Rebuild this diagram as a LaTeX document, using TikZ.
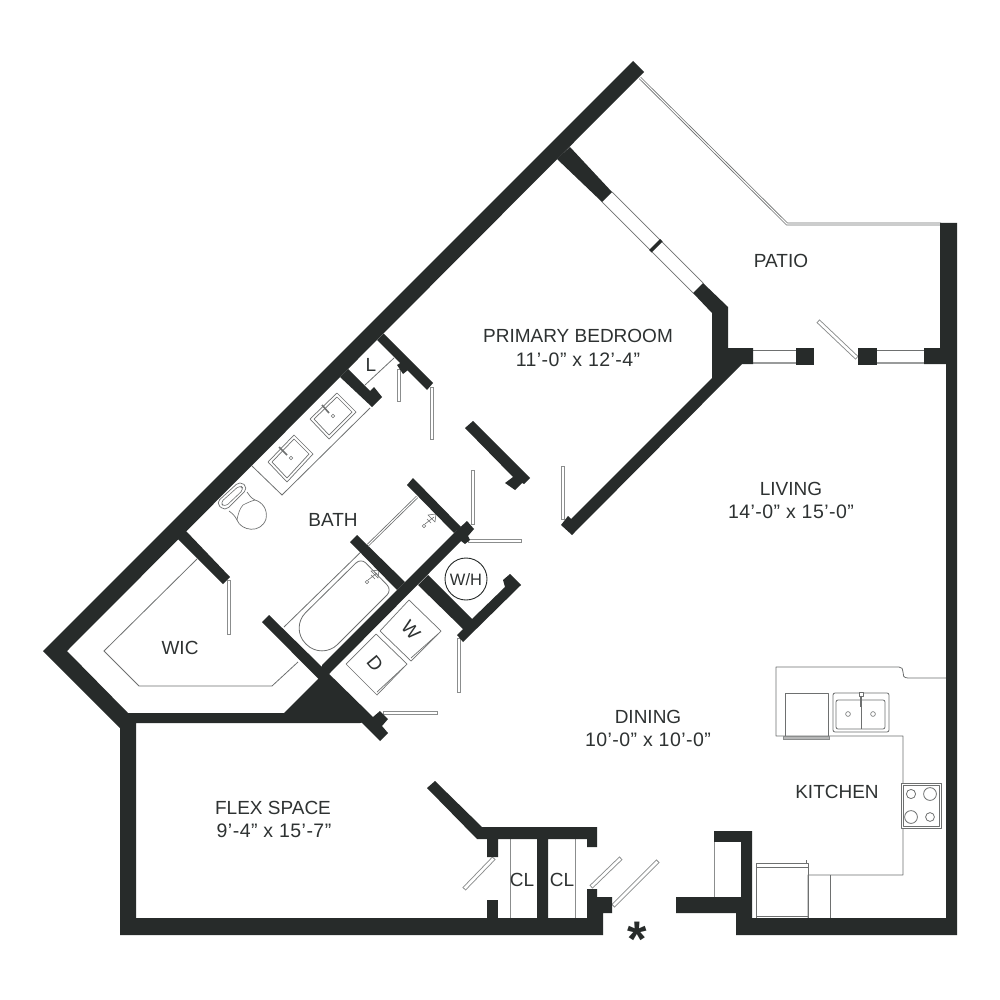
\documentclass[tikz,border=0pt]{standalone}
\usepackage{fontspec}
\setmainfont{Liberation Sans}
\definecolor{wall}{HTML}{272B2A}
\definecolor{ln}{HTML}{6E7070}
\definecolor{txt}{HTML}{2E3232}
\newcommand\doorleaf[2]{%
  \draw[draw=ln!80,line width=4.4pt] (#1) -- (#2);
  \draw[draw=white,line width=2.6pt,shorten >=0.9pt,shorten <=0.9pt] (#1) -- (#2);}
\tikzset{
  wallfill/.style={fill=wall,draw=none},
  thin line/.style={draw=ln,line width=0.8pt},
  fix/.style={draw=ln,line width=0.8pt,line join=round},
  rail/.style={draw=ln,line width=0.8pt,double=white,double distance=1.1pt},
  lab/.style={anchor=base,inner sep=0pt,text=txt,font=\fontsize{19}{20}\selectfont},
  dim/.style={lab,font=\fontsize{19.5}{20}\selectfont\addfontfeatures{LetterSpace=2.4}},
}
\begin{document}
\begin{tikzpicture}[x=1pt,y=-1pt]
\useasboundingbox (0,0) rectangle (1000,1000);
\fill[white] (0,0) rectangle (1000,1000);

% ---- thin lines below walls
% patio rail
\draw[rail] (640,78) -- (787,224) -- (941,224);
% bedroom window
\draw[thin line,line width=0.7pt] (602,202) -- (693,293);
\draw[thin line,line width=0.7pt] (612,192) -- (703,283);
% patio windows
\draw[thin line] (753,350) -- (796,350);
\draw[draw=ln!70,line width=1.8pt] (753,363) -- (796,363);
\draw[thin line] (877,350) -- (924,350);
\draw[draw=ln!70,line width=1.8pt] (877,363) -- (924,363);
\draw[draw=ln!70,line width=1pt] (946,364) -- (946,430);
% closet rods
\draw[draw=ln!80,line width=1pt] (510,839) -- (510,918);
\draw[draw=ln!80,line width=1pt] (575,839) -- (575,918);
% walk-in shelf
\draw[thin line] (197,559) -- (104,651) -- (139,686) -- (272,686) -- (298,662);
% vanity counter
\draw[thin line] (252,466) -- (282,495) -- (370,408);
% linen shelf
\draw[thin line] (365,385) -- (394,358);
% shower glass
\draw[rail] (417,497) -- (368,545);
% tub surround
\draw[thin line] (368,545) -- (284,627);
% tub
\draw[fix,rounded corners=7pt] (361,558) -- (392,590) [rounded corners=22pt] -- (322,660) -- (290,628) [rounded corners=7pt] -- cycle;
% tub fixture
\draw[fix,line width=0.6pt] (367,582) circle [radius=1.8pt];
\draw[fix,line width=0.6pt] (368,580) -- (377,573) (371,571) -- (379,570) -- (378,578) -- cycle (371,575) -- (375,579);
% shower fixture
\draw[fix,line width=0.6pt] (424,526) circle [radius=1.8pt];
\draw[fix,line width=0.6pt] (425,524) -- (434,517) (428,515) -- (436,514) -- (435,522) -- cycle (427,519) -- (431,523);
% sinks
\draw[fix,line width=0.7pt] (337,393) -- (356,412) -- (329,439) -- (310,419) -- cycle;
\draw[fix,line width=0.7pt] (337,397) -- (352,412) -- (329,435) -- (314,419) -- cycle;
\draw[fix,line width=0.6pt] (333,416) circle [radius=1.8pt];
\draw[draw=ln,line width=1.6pt] (322,405) -- (329,413);
\draw[fix,line width=0.7pt] (294,435) -- (313,454) -- (287,482) -- (268,462) -- cycle;
\draw[fix,line width=0.7pt] (294,439) -- (309,454) -- (287,478) -- (272,462) -- cycle;
\draw[fix,line width=0.6pt] (291,458) circle [radius=1.8pt];
\draw[draw=ln,line width=1.6pt] (279,447) -- (287,455);
% toilet
\draw[fix,line width=0.7pt] (229,511) .. controls (233,514) and (235,516) .. (237,520) .. controls (241,531) and (261,534) .. (266,519) .. controls (268,509) and (262,502) .. (255,500) .. controls (251,498) and (249,495) .. (247,492);
\draw[fix,line width=0.6pt] (237,520) .. controls (238,514) and (240,508) .. (243,505) .. controls (247,503) and (251,501) .. (255,500);
\draw[fix,line width=0.7pt,rounded corners=5pt] (216,503) -- (240,481) -- (248,488) -- (225,511) -- cycle;
\draw[fix,line width=0.6pt,rounded corners=4pt] (220,503) -- (240,485) -- (244,489) -- (225,507) -- cycle;
% washer and dryer
\draw[fix,line width=0.7pt] (409,600) -- (441,631) -- (411,661) -- (380,631) -- cycle;
\draw[fix,line width=0.7pt] (438,634) -- (411,658);
\draw[fix,line width=0.7pt] (376,634) -- (407,664) -- (377,695) -- (346,664) -- cycle;
\draw[fix,line width=0.7pt] (404,667) -- (377,692);
% kitchen counters
\draw[fix] (946,678) -- (908,678) .. controls (903,678) and (903,675) .. (903,672) .. controls (903,669) and (902,667) .. (899,667) -- (776,667) -- (776,736) -- (903,736) -- (903,875) -- (808,875) -- (808,918);
\draw[fix] (830,875) -- (830,918);
% dishwasher
\draw[fix] (785,693) rectangle (828,736);
\draw[draw=ln!80,fill=ln!50,line width=0.7pt] (783,736) rectangle (829,739);
% kitchen sink
\draw[fix,rounded corners=2pt] (833,693) rectangle (889,732);
\draw[fix,rounded corners=2pt] (836,700) rectangle (885,729);
\draw[fix] (861,700) -- (861,729);
\draw[fix,line width=0.6pt] (848,714) circle [radius=2.4pt];
\draw[fix,line width=0.6pt] (873,714) circle [radius=2.4pt];
\draw[fix,fill=white,line width=0.6pt] (859,692) rectangle (863,696);
\draw[draw=ln,line width=1.4pt] (861,696) -- (861,707);
% range
\draw[fix,fill=white] (901,783) rectangle (941,828);
\draw[fix] (903.5,785.5) rectangle (939,826.5);
\draw[fix] (911,794) circle [radius=4.6pt];
\draw[fix] (930,794) circle [radius=6.4pt];
\draw[fix] (911,817) circle [radius=6.4pt];
\draw[fix] (930,817) circle [radius=4.4pt];
% refrigerator
\draw[fix] (756,863) rectangle (808,918);
\draw[fix] (756,867) -- (808,867);
\draw[fix] (756,916) -- (808,916);
\draw[fix] (806,863) -- (806,860);
% water heater
\draw[draw=wall,line width=0.9pt] (466,579) circle [radius=21pt];

% ---- door leaves
\doorleaf{399,369}{399,402}
\doorleaf{432,387}{432,440}
\doorleaf{473,470}{473,525}
\doorleaf{468,541}{522,541}
\doorleaf{229,580}{229,635}
\doorleaf{459,638}{459,693}
\doorleaf{383,713}{438,713}
\doorleaf{563,466}{563,520}
\doorleaf{464,889}{494,858}
\doorleaf{591,887}{621,858}
\doorleaf{613,906}{658,861}
\doorleaf{818,321}{857,358}

% ---- walls
\fill[wallfill] (633,61) -- (644,72) -- (67,651) -- (128,713) -- (284,713) -- (322,675) -- (368,721) -- (360,723) -- (136,723) -- (136,918) -- (587,918) -- (587,889) -- (597,889) -- (597,897) -- (612,897) -- (612,913) -- (603,913) -- (603,935) -- (120,935) -- (120,728) -- (43,651) -- cycle;
% wall along tub head through stub by the laundry
\fill[wallfill] (262,622) -- (269,615) -- (373,717) -- (380,711) -- (388,719) -- (382,726) -- (388,733) -- (380,741) -- cycle;
% wall from triangle to the block at the water heater
\fill[wallfill] (322,665) -- (453,534) -- (467,521) -- (474,529) -- (468,536) -- (470,540) -- (465,544) -- (461,541) -- (329,674) -- (322,682) -- cycle;
% shower end wall
\fill[wallfill] (350,542) -- (357,535) -- (405,582) -- (397,590) -- cycle;
% shower top wall
\fill[wallfill] (407,485) -- (413,478) -- (461,527) -- (454,533) -- cycle;
% water heater walls
\fill[wallfill] (428,575) -- (472,619) -- (505,587) -- (503,580) -- (510,574) -- (521,585) -- (463,642) -- (457,635) -- (463,629) -- (418,585) -- cycle;
% primary bedroom door top wall
\fill[wallfill] (377,340) -- (383.5,333.5) -- (433,383) -- (427,390) -- cycle;
\fill[wallfill] (397,365) -- (402,362) -- (408,370) -- (403,374) -- cycle;
% linen closet bottom wall
\fill[wallfill] (348,369) -- (370,391) -- (374,387) -- (382,397) -- (372,407) -- (340,377) -- cycle;
% free wall at bedroom door
\fill[wallfill] (465,428) -- (473,421) -- (530,478) -- (524,484) -- (522,483) -- (515,490) -- (505,483) -- (513,477) -- cycle;
% walk-in closet top wall
\fill[wallfill] (178,539) -- (186,531) -- (230,577) -- (223,584) -- cycle;
% bedroom southeast wall
\fill[wallfill] (703,283) -- (728,307) -- (728,348) -- (753,348) -- (753,364) -- (742,364) -- (572,535) -- (561,525) -- (568,516) -- (571,519) -- (712,378) -- (712,313) -- (693,293) -- cycle;
% bedroom northeast wall
\fill[wallfill] (557,159) -- (570,147) -- (612,192) -- (602,202) -- cycle;
% mullion
\fill[wallfill] (649,250) -- (660,239) -- (662.5,241.5) -- (651.5,252.5) -- cycle;
% patio door jambs
\fill[wallfill] (796,348) rectangle (814,365);
\fill[wallfill] (858,348) rectangle (877,365);
% east wall with entry
\fill[wallfill] (940,223) -- (957,223) -- (957,935) -- (736,935) -- (736,913) -- (676,913) -- (676,897) -- (714,897) -- (714,831) -- (752,831) -- (752,918) -- (946,918) -- (946,364) -- (924,364) -- (924,348) -- (940,348) -- cycle;
\fill[white] (715,842) rectangle (741,897);
\draw[draw=ln!80,line width=0.9pt] (714.5,842) -- (714.5,897);
% closet walls
\fill[wallfill] (427,788) -- (435,781) -- (482,827) -- (597,827) -- (597,847) -- (587,847) -- (587,839) -- (548,839) -- (548,920) -- (537,920) -- (537,839) -- (498,839) -- (498,857) -- (487,857) -- (487,839) -- (477,839) -- cycle;
\fill[wallfill] (487,900) rectangle (498,920);

% ---- labels
\node[lab] (patio) at (781,267) {PATIO};
\node[lab] (bed) at (578,342) {PRIMARY BEDROOM};
\node[dim] (beddim) at (578,366) {11’-0” x 12’-4”};
\node[lab] (linen) at (371,371) {L};
\node[lab] (bath) at (333,526) {BATH};
\node[lab] (wic) at (180,654) {WIC};
\node[lab,font=\fontsize{16.5}{18}\selectfont] (wh) at (466,585) {W/H};
\node[lab] (living) at (791,495) {LIVING};
\node[dim] (livdim) at (791,518) {14’-0” x 15’-0”};
\node[lab] (dining) at (648,723) {DINING};
\node[dim] (dindim) at (648,746) {10’-0” x 10’-0”};
\node[lab] (kitchen) at (837,798) {KITCHEN};
\node[lab] (flex) at (273,814) {FLEX SPACE};
\node[dim] (flexdim) at (274,837) {9’-4” x 15’-7”};
\node[lab] (cla) at (522,886) {CL};
\node[lab] (clb) at (562,886) {CL};
\node[lab,anchor=center,rotate=-50] (w) at (411,630) {W};
\node[lab,anchor=center,rotate=-50] (d) at (375,664) {D};
\node[anchor=base,inner sep=0pt,text=wall,font=\fontsize{50}{50}\selectfont\bfseries] (star) at (637,956) {*};
\end{tikzpicture}
\end{document}
